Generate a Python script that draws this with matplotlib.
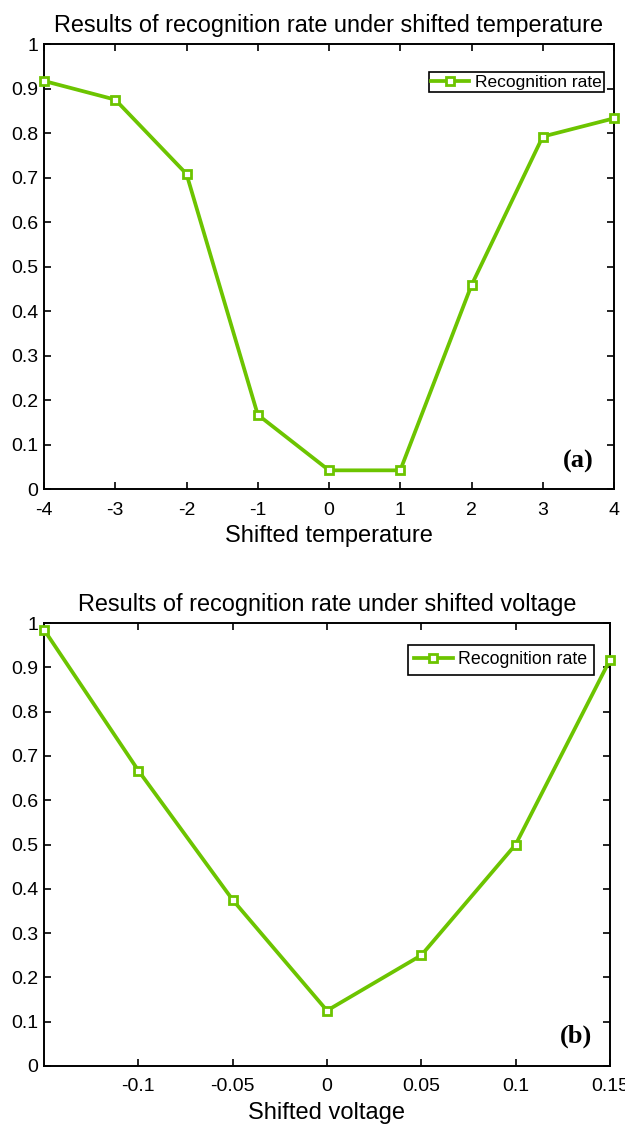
import numpy as np
import matplotlib
matplotlib.use('Agg')
import matplotlib.pyplot as plt

plt.rcParams['font.family'] = ['Liberation Sans', 'DejaVu Sans']

# panel (a) data
temp_shift = [-4, -3, -2, -1, 0, 1, 2, 3, 4]
temp_rate = [0.917, 0.875, 0.708, 0.167, 0.042, 0.042, 0.458, 0.792, 0.833]

# panel (b) data
volt_shift = [-0.15, -0.10, -0.05, 0.0, 0.05, 0.10, 0.15]
volt_rate = [0.985, 0.667, 0.375, 0.125, 0.25, 0.5, 0.917]

y_ticks = np.round(np.arange(0, 1.01, 0.1), 1)
y_labels = ['0', '0.1', '0.2', '0.3', '0.4', '0.5', '0.6', '0.7', '0.8', '0.9', '1']
xb_ticks = [-0.1, -0.05, 0, 0.05, 0.1, 0.15]
xb_labels = ['-0.1', '-0.05', '0', '0.05', '0.1', '0.15']

green = '#6CC400'

fig = plt.figure(figsize=(6.25, 11.26), dpi=100)
ax1 = fig.add_axes([0.0704, 0.5657, 0.912, 0.3952])
ax2 = fig.add_axes([0.0704, 0.0533, 0.9056, 0.3934])


def style(ax):
    for s in ax.spines.values():
        s.set_linewidth(1.4)
    ax.tick_params(direction='in', top=True, right=True, length=5, width=1.2,
                   labelsize=14)
    ax.tick_params(axis='x', pad=9)
    ax.tick_params(axis='y', pad=4)
    ax.set_yticks(y_ticks)
    ax.set_yticklabels(y_labels)
    ax.set_ylim(0, 1)


def draw(ax, x, y):
    ax.plot(x, y, color=green, lw=2.7, marker='s', markersize=6,
            markerfacecolor='white', markeredgecolor=green, markeredgewidth=2,
            label='Recognition rate', clip_on=False, zorder=3)


def legend(ax, anchor, pad, size):
    leg = ax.legend(loc='upper right', bbox_to_anchor=anchor, fontsize=size,
                    fancybox=False, edgecolor='black', framealpha=1,
                    handlelength=2.2, handletextpad=0.3, borderpad=pad,
                    borderaxespad=0)
    leg.get_frame().set_linewidth(1.2)


draw(ax1, temp_shift, temp_rate)
style(ax1)
ax1.set_xlim(-4, 4)
ax1.set_xticks(temp_shift)
ax1.set_xticklabels([str(v) for v in temp_shift])
ax1.set_title('Results of recognition rate under shifted temperature', fontsize=16.9, pad=9)
ax1.set_xlabel('Shifted temperature', fontsize=17, labelpad=5)
legend(ax1, (0.9825, 0.937), 0.15, 12.5)
ax1.text(0.965, 0.063, '(a)', transform=ax1.transAxes, ha='right', va='center',
         fontsize=19, fontweight='bold', family='Liberation Serif')

draw(ax2, volt_shift, volt_rate)
style(ax2)
ax2.set_xlim(-0.15, 0.15)
ax2.set_xticks(xb_ticks)
ax2.set_xticklabels(xb_labels)
ax2.set_title('Results of recognition rate under shifted voltage', fontsize=16.9, pad=9)
ax2.set_xlabel('Shifted voltage', fontsize=17, labelpad=5)
legend(ax2, (0.971, 0.95), 0.35, 12.8)
ax2.text(0.969, 0.066, '(b)', transform=ax2.transAxes, ha='right', va='center',
         fontsize=19, fontweight='bold', family='Liberation Serif')

fig.savefig('out.png', dpi=100)
